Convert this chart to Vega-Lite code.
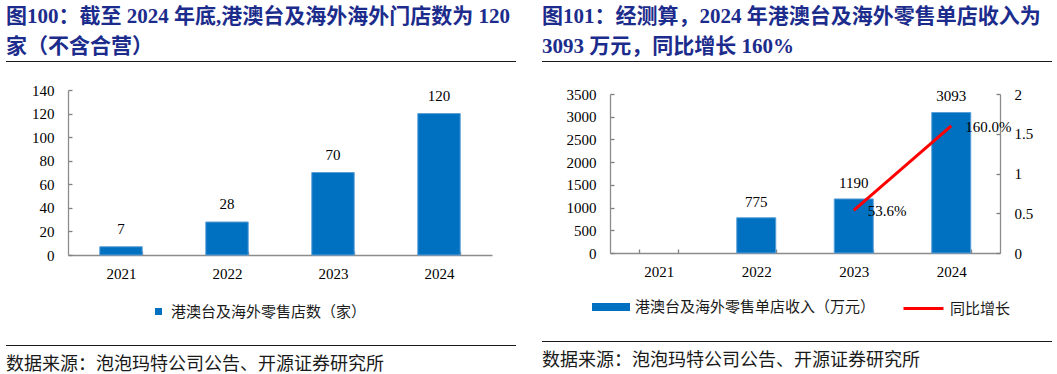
{
  "$schema": "https://vega.github.io/schema/vega-lite/v6.json",
  "background": "white",
  "padding": {"left": 6, "top": 6, "right": 0, "bottom": 0},
  "resolve": {"scale": {"fill": "independent", "stroke": "independent"}},
  "hconcat": [
    {
      "resolve": {"scale": {"fill": "independent", "stroke": "independent"}},
      "vconcat": [
        {
          "width": 510, "height": 1,
          "view": {"fill": "#1a1a1a", "stroke": null},
          "title": {"text": ["图100：截至 2024 年底,港澳台及海外海外门店数为 120", "家（不含合营）"], "anchor": "start", "baseline": "bottom", "offset": -17, "lineHeight": 30, "fontSize": 21, "fontWeight": "bold", "color": "#1c2c8c", "font": "Liberation Serif, Noto Sans CJK SC"},
          "data": {"values": []},
          "mark": "rule",
          "encoding": {}
        },
        {
          "resolve": {"scale": {"fill": "independent", "stroke": "independent"}},
          "vconcat": [
            {
              "resolve": {"scale": {"fill": "independent", "stroke": "independent"}},
              "hconcat": [
                {
                  "width": 25, "height": 1,
                  "data": {"values": []},
                  "mark": "rule",
                  "encoding": {}
                },
                {
                  "width": 424, "height": 165,
                  "data": {"values": [
                    {"year": "2021", "stores": 7},
                    {"year": "2022", "stores": 28},
                    {"year": "2023", "stores": 70},
                    {"year": "2024", "stores": 120}
                  ]},
                  "encoding": {
                    "x": {"field": "year", "type": "nominal", "title": null, "scale": {"domain": ["2021", "2022", "2023", "2024"], "paddingInner": 0.6, "paddingOuter": 0.3}},
                    "y": {"field": "stores", "type": "quantitative", "title": null, "scale": {"domain": [0, 140]}, "axis": {"values": [0, 20, 40, 60, 80, 100, 120, 140]}}
                  },
                  "layer": [
                    {
                      "mark": {"type": "bar", "stroke": "#5b9fd8", "strokeWidth": 1},
                      "encoding": {
                        "fill": {"datum": "港澳台及海外零售店数（家）", "type": "nominal", "scale": {"range": ["#0070c0"]}, "legend": {"title": null, "orient": "none", "legendX": 83, "legendY": 214, "symbolType": "square", "symbolSize": 49, "symbolStrokeWidth": 0, "labelLimit": 400}}
                      }
                    },
                    {
                      "mark": {"type": "text", "baseline": "bottom", "dy": -10, "font": "Liberation Serif", "fontSize": 15, "color": "#000"},
                      "encoding": {"text": {"field": "stores", "type": "quantitative"}}
                    }
                  ]
                }
              ],
              "spacing": 0
            },
            {
              "width": 510, "height": 1,
              "view": {"fill": "#1a1a1a", "stroke": null},
              "title": {"text": "数据来源：泡泡玛特公司公告、开源证券研究所", "orient": "bottom", "anchor": "start", "baseline": "top", "offset": 10, "fontSize": 18, "fontWeight": "normal", "color": "#1a1a1a", "font": "Noto Sans CJK SC"},
              "data": {"values": []},
              "mark": "rule",
              "encoding": {}
            }
          ],
          "spacing": 25
        }
      ],
      "spacing": 21
    },
    {
      "resolve": {"scale": {"fill": "independent", "stroke": "independent"}},
      "vconcat": [
        {
          "width": 510, "height": 1,
          "view": {"fill": "#1a1a1a", "stroke": null},
          "title": {"text": ["图101：经测算，2024 年港澳台及海外零售单店收入为", "3093 万元，同比增长 160%"], "anchor": "start", "baseline": "bottom", "offset": -17, "lineHeight": 30, "fontSize": 21, "fontWeight": "bold", "color": "#1c2c8c", "font": "Liberation Serif, Noto Sans CJK SC"},
          "data": {"values": []},
          "mark": "rule",
          "encoding": {}
        },
        {
          "resolve": {"scale": {"fill": "independent", "stroke": "independent"}},
          "vconcat": [
            {
              "resolve": {"scale": {"fill": "independent", "stroke": "independent"}},
              "hconcat": [
                {
                  "width": 24, "height": 1,
                  "data": {"values": []},
                  "mark": "rule",
                  "encoding": {}
                },
                {
                  "width": 390, "height": 159,
                  "data": {"values": [
                    {"year": "2021", "revenue": null, "growth": null},
                    {"year": "2022", "revenue": 775, "growth": null},
                    {"year": "2023", "revenue": 1190, "growth": 0.536},
                    {"year": "2024", "revenue": 3093, "growth": 1.6}
                  ]},
                  "encoding": {
                    "x": {"field": "year", "type": "nominal", "title": null, "scale": {"domain": ["2021", "2022", "2023", "2024"], "paddingInner": 0.6, "paddingOuter": 0.3}}
                  },
                  "layer": [
                    {
                      "encoding": {
                        "y": {"field": "revenue", "type": "quantitative", "title": null, "scale": {"domain": [0, 3500]}, "axis": {"values": [0, 500, 1000, 1500, 2000, 2500, 3000, 3500], "format": "d", "orient": "left"}}
                      },
                      "layer": [
                        {
                          "mark": {"type": "bar", "stroke": "#5b9fd8", "strokeWidth": 1},
                          "encoding": {
                            "fill": {"datum": "港澳台及海外零售单店收入（万元）", "type": "nominal", "scale": {"range": ["#0070c0"]}, "legend": {"title": null, "orient": "none", "legendX": -18, "legendY": 194, "symbolType": "M-1,-0.21H1V0.21H-1Z", "symbolSize": 1444, "symbolStrokeWidth": 0, "labelLimit": 400}}
                          }
                        },
                        {
                          "transform": [{"filter": "isValid(datum.revenue)"}],
                          "mark": {"type": "text", "baseline": "bottom", "dy": -8, "font": "Liberation Serif", "fontSize": 15, "color": "#000"},
                          "encoding": {"text": {"field": "revenue", "type": "quantitative"}}
                        }
                      ]
                    },
                    {
                      "transform": [{"filter": "isValid(datum.growth)"}],
                      "encoding": {
                        "y": {"field": "growth", "type": "quantitative", "title": null, "scale": {"domain": [0, 2]}, "axis": {"values": [0, 0.5, 1, 1.5, 2], "format": "~g", "orient": "right"}}
                      },
                      "layer": [
                        {
                          "mark": {"type": "line", "strokeWidth": 3},
                          "encoding": {
                            "stroke": {"datum": "同比增长", "type": "nominal", "scale": {"range": ["#ff0000"]}, "legend": {"title": null, "orient": "none", "legendX": 292, "legendY": 193, "symbolType": "stroke", "symbolSize": 1600, "symbolStrokeWidth": 3, "labelLimit": 400}}
                          }
                        },
                        {
                          "mark": {"type": "text", "align": "left", "baseline": "middle", "dx": 14, "dy": 1, "font": "Liberation Serif", "fontSize": 15, "color": "#000"},
                          "encoding": {"text": {"field": "growth", "type": "quantitative", "format": ".1%"}}
                        }
                      ]
                    }
                  ],
                  "resolve": {"scale": {"y": "independent"}}
                }
              ],
              "spacing": 0
            },
            {
              "width": 510, "height": 1,
              "view": {"fill": "#1a1a1a", "stroke": null},
              "title": {"text": "数据来源：泡泡玛特公司公告、开源证券研究所", "orient": "bottom", "anchor": "start", "baseline": "top", "offset": 10, "fontSize": 18, "fontWeight": "normal", "color": "#1a1a1a", "font": "Noto Sans CJK SC"},
              "data": {"values": []},
              "mark": "rule",
              "encoding": {}
            }
          ],
          "spacing": 24
        }
      ],
      "spacing": 25
    }
  ],
  "spacing": 26,
  "config": {
    "view": {"stroke": null},
    "axis": {"domainColor": "#8c8c8c", "domainWidth": 1.3, "tickColor": "#7f7f7f", "tickWidth": 1.3, "tickSize": -4, "labelFont": "Liberation Serif", "labelFontSize": 15, "labelColor": "#000", "grid": false},
    "axisX": {"labelAngle": 0, "labelPadding": 15, "tickBand": "extent"},
    "axisY": {"labelPadding": 18},
    "legend": {"labelFont": "Noto Sans CJK SC", "labelFontSize": 15, "labelColor": "#1a1a1a", "labelOffset": 5}
  }
}
